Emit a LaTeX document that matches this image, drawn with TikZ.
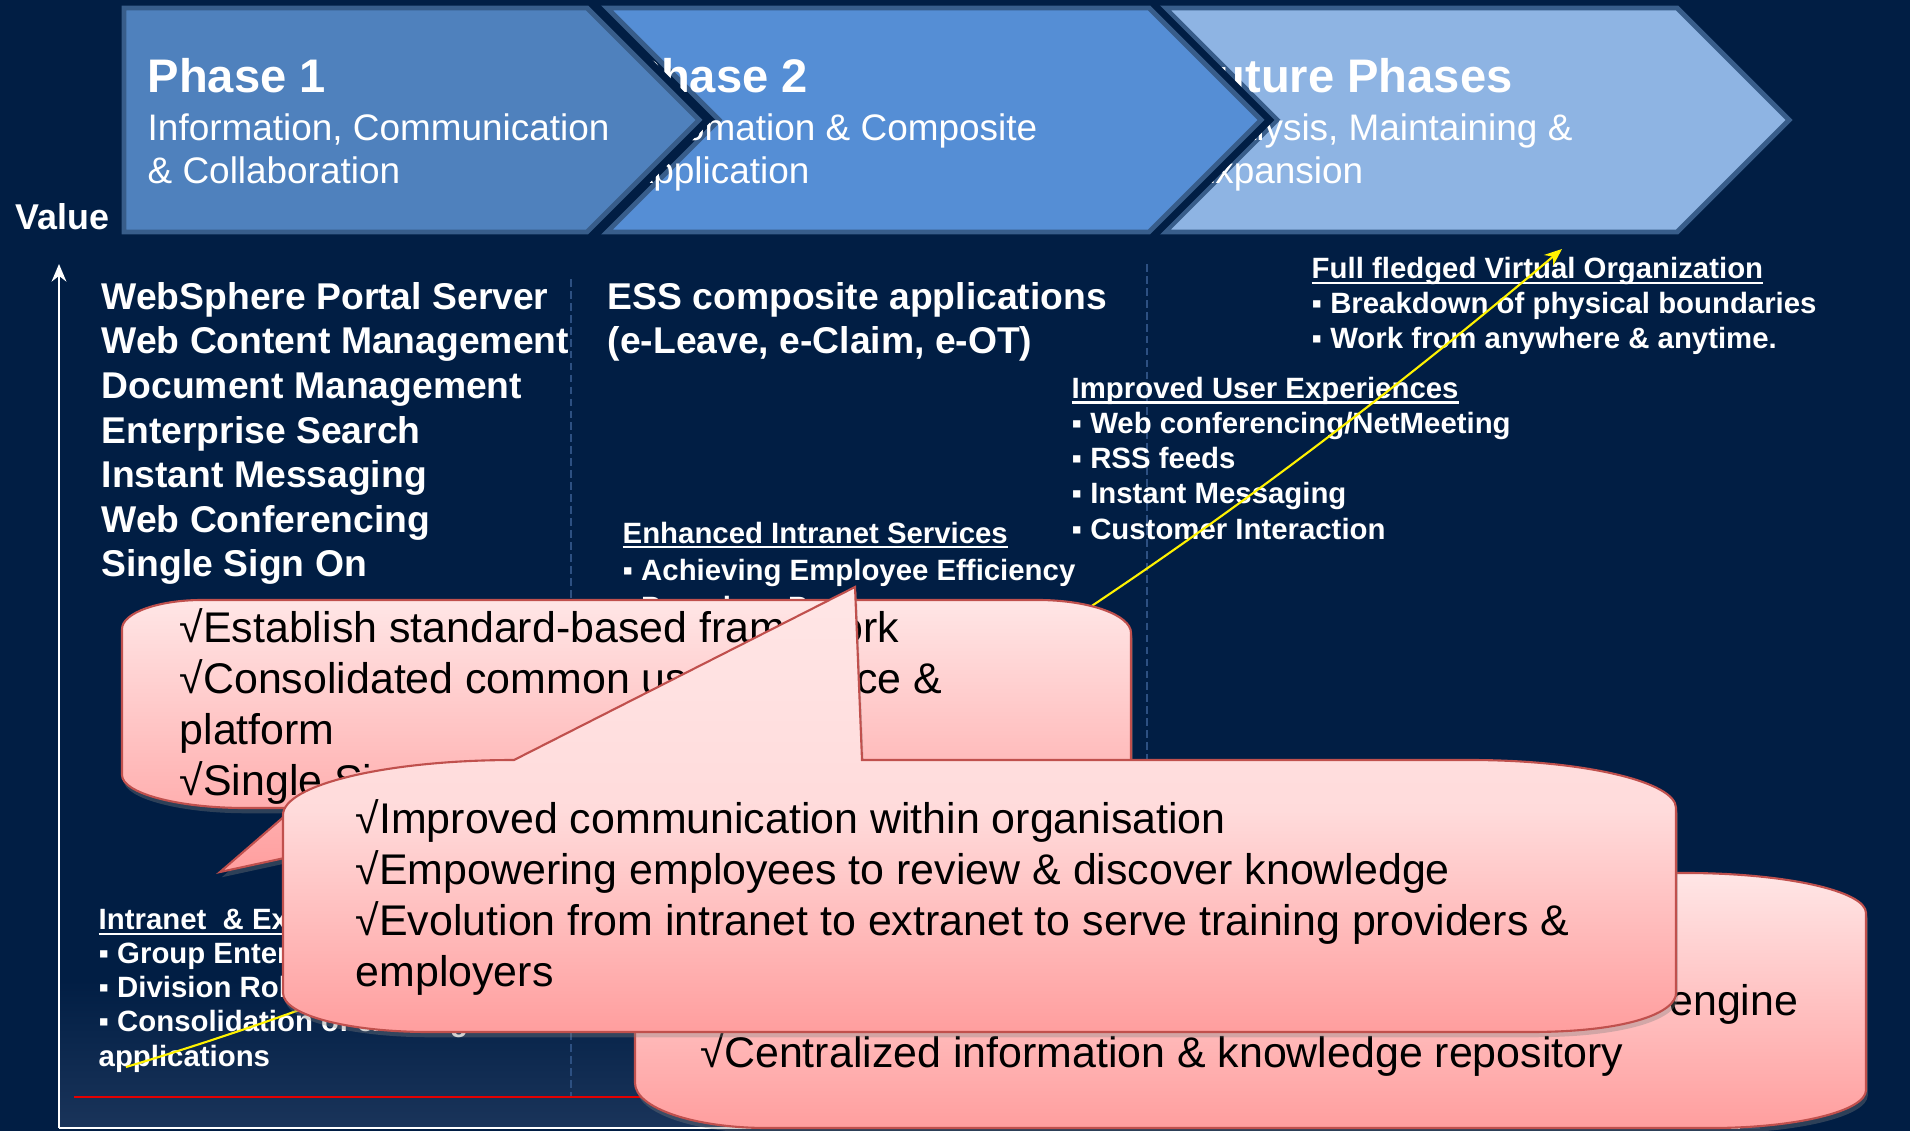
\documentclass[tikz,border=0pt]{standalone}
\usepackage{fontspec}
\setmainfont{Liberation Sans}
\usetikzlibrary{arrows.meta,shadows}

\definecolor{navy}{RGB}{1,30,68}
\definecolor{bandblue}{RGB}{26,52,90}
\definecolor{phaseone}{RGB}{79,129,189}
\definecolor{phasetwo}{RGB}{85,142,213}
\definecolor{phasethree}{RGB}{142,180,227}
\definecolor{chevedge}{RGB}{56,93,138}
\definecolor{sepline}{RGB}{45,80,130}
\definecolor{pinktop}{RGB}{255,230,230}
\definecolor{pinkbot}{RGB}{255,158,158}
\definecolor{bubbleedge}{RGB}{192,80,77}

\newcommand{\undl}[1]{\setbox0=\hbox{#1}\rlap{\rule[-1.5pt]{\wd0}{0.6pt}}\box0}

\begin{document}
\begin{tikzpicture}[x=0.01cm,y=-0.01cm,
  chevron/.style={draw=chevedge, line width=1.4pt, line join=miter,
    preaction={draw=navy, line width=5.4pt, line join=miter}},
  phasetitle/.style={anchor=base west, inner sep=0, text=white,
    font=\bfseries\fontsize{13.4}{15}\selectfont},
  phasesub/.style={anchor=base west, inner sep=0, text=white, align=left,
    font=\fontsize{10.5}{12.4}\selectfont},
  bigitem/.style={anchor=base west, inner sep=0, text=white, align=left,
    font=\bfseries\fontsize{10.6}{12.7}\selectfont},
  smallitem/.style={anchor=base west, inner sep=0, text=white, align=left,
    font=\bfseries\fontsize{8.35}{10}\selectfont},
  pinkbubble/.style={draw=bubbleedge, line width=0.6pt, top color=pinktop, bottom color=pinkbot,
    drop shadow={opacity=0.35, shadow xshift=0.5pt, shadow yshift=-1.5pt}},
  bubbletext/.style={anchor=base west, inner sep=0, align=left,
    font=\fontsize{12.2}{14.5}\selectfont},
  phasesep/.style={draw=sepline, line width=0.45pt, dash pattern=on 2.2pt off 1.2pt}
]

\useasboundingbox (0,0) rectangle (1910,1131);
\fill[navy] (0,0) rectangle (1910,1131);
\shade[top color=navy, bottom color=bandblue] (60,980) rectangle (1760,1128);

% phases, back to front (multi-line nodes sit on their last baseline)
\draw[chevron, fill=phasethree] (1165,8) -- (1677,8) -- (1789,120) -- (1677,232) -- (1165,232) -- (1277,120) -- cycle;
\node[phasetitle] (futtitle) at (1187,93) {Future Phases};
\node[phasesub] (futsub) at (1190,184) {Analysis, Maintaining \&\\Expansion};

\draw[chevron, fill=phasetwo] (607,8) -- (1149,8) -- (1261,120) -- (1149,232) -- (607,232) -- (719,120) -- cycle;
\node[phasetitle] (p2title) at (629,93) {Phase 2};
\node[phasesub] (p2sub) at (628,184) {Automation \& Composite\\Application};

\draw[chevron, fill=phaseone] (124,8) -- (587,8) -- (699,120) -- (587,232) -- (124,232) -- cycle;
\node[phasetitle] (p1title) at (147,93) {Phase 1};
\node[phasesub] (p1sub) at (147,184) {Information, Communication\\\& Collaboration};

% value axis
\coordinate (origin) at (59,1128);
\coordinate (vtop) at (59,264);
\coordinate (hend) at (1740,1128);
\draw[white, line width=0.6pt, -{Stealth[length=5pt,width=4.2pt]}] (origin) -- (vtop);
\draw[white, line width=0.6pt] (origin) -- (hend);
\node[anchor=base west, inner sep=0, text=white, font=\bfseries\fontsize{10.2}{12}\selectfont] (value) at (15,230) {Value};

% separators and base line
\coordinate (sepatop) at (571,279);
\coordinate (sepabot) at (571,1097);
\coordinate (sepbtop) at (1147,264);
\coordinate (sepbbot) at (1147,1097);
\draw[phasesep] (sepatop) -- (sepabot);
\draw[phasesep] (sepbtop) -- (sepbbot);
\coordinate (redl) at (74,1097);
\coordinate (redr) at (700,1097);
\draw[red!90!black, line width=0.6pt] (redl) -- (redr);

% phase contents
\node[bigitem] (p1list) at (101,577) {WebSphere Portal Server\\Web Content Management\\Document Management\\Enterprise Search\\Instant Messaging\\Web Conferencing\\Single Sign On};
\node[bigitem] (ess) at (607,354) {ESS composite applications\\(e-Leave, e-Claim, e-OT)};
\node[smallitem, font=\bfseries\fontsize{8.35}{10.5}\selectfont] (enhanced) at (622,617) {\undl{Enhanced Intranet Services}\\▪ Achieving Employee Efficiency\\▪ Paperless Processes};
\node[smallitem] (improved) at (1071,539) {\undl{Improved User Experiences}\\▪ Web conferencing/NetMeeting\\▪ RSS feeds\\▪ Instant Messaging\\▪ Customer Interaction};
\node[smallitem] (virtual) at (1311,349) {\undl{Full fledged Virtual Organization}\\▪ Breakdown of physical boundaries\\▪ Work from anywhere \& anytime.};
\node[smallitem, font=\bfseries\fontsize{8.35}{9.7}\selectfont] (intranet) at (98,1066) {\undl{Intranet\ \ \& Extranet Portal}\\▪ Group Enterprise Portal\\▪ Division Role Portal\\▪ Consolidation of existing\\applications};

% value curve
\coordinate (ystart) at (126,1067);
\coordinate (yend) at (1562,249);
\draw[yellow, line width=0.6pt, -{Stealth[length=5pt,width=4pt]}] (ystart) .. controls (626,917) and (1075,660) .. (yend);

% bottom right bubble
\path[pinkbubble] (815,873) -- (1686,873) .. controls (1785,873) and (1866,891) .. (1866,913) -- (1866,1090) .. controls (1866,1111) and (1797,1128) .. (1711,1128) -- (767,1128) .. controls (694,1128) and (635,1108) .. (635,1083) -- (635,913) .. controls (635,891) and (716,873) .. (815,873) -- cycle;
\node[bubbletext, anchor=base east] (searchline) at (1799,1015) {√Enterprise search engine};
\node[bubbletext] (repository) at (700,1067) {√Centralized information \& knowledge repository};

% phase 1 bubble
\path[pinkbubble] (202,600) -- (1038,600) .. controls (1089,600) and (1131,615) .. (1131,633) -- (1131,775) .. controls (1131,793) and (1089,808) .. (1038,808) -- (515,808) -- (220,872) -- (294,808) -- (245,808) .. controls (177,808) and (122,793) .. (122,775) -- (122,629) .. controls (122,613) and (158,600) .. (202,600) -- cycle;
\node[bubbletext] (framework) at (179,795) {√Establish standard-based framework\\√Consolidated common user interface \&\\platform\\√Single Sign On};

% phase 2 bubble
\path[pinkbubble, middle color=pinktop!85!pinkbot] (514,760) -- (855,587) -- (862,760) -- (1470,760) .. controls (1584,760) and (1676,782) .. (1676,808) -- (1676,993) .. controls (1676,1012) and (1630,1032) .. (1530,1032) -- (429,1032) .. controls (348,1032) and (283,1015) .. (283,993) -- (283,815) .. controls (283,785) and (386,760) .. (514,760) -- cycle;
\node[bubbletext] (communication) at (355,986) {√Improved communication within organisation\\√Empowering employees to review \& discover knowledge\\√Evolution from intranet to extranet to serve training providers \&\\employers};

\end{tikzpicture}
\end{document}
